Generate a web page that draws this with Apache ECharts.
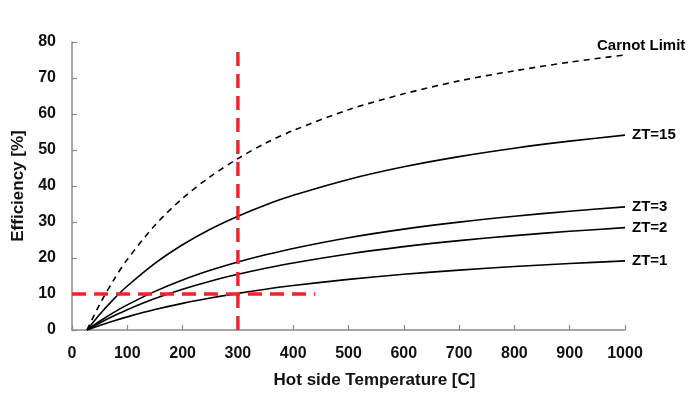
<!DOCTYPE html>
<html>
<head>
<meta charset="utf-8">
<script src="https://cdn.jsdelivr.net/npm/echarts@6/dist/echarts.min.js"></script>
<style>html,body{margin:0;padding:0;background:#fff;}#c{width:700px;height:400px;}</style>
</head>
<body>
<div id="c"></div>
<script>
var temps = [27, 50, 75, 100, 150, 200, 250, 300, 350, 400, 500, 600, 700, 800, 900, 1000];
var carnot = [0, 7.1, 13.8, 19.6, 29.1, 36.6, 42.6, 47.6, 51.9, 55.4, 61.2, 65.6, 69.2, 72.0, 74.4, 76.4];
var zt15 = [0, 4.33, 8.51, 12.22, 18.53, 23.68, 27.97, 31.59, 34.71, 37.40, 41.83, 45.34, 48.17, 50.50, 52.46, 54.13];
var zt3 = [0, 2.43, 4.82, 6.98, 10.73, 13.89, 16.57, 18.88, 20.89, 22.66, 25.62, 28.01, 29.97, 31.60, 32.99, 34.19];
var zt2 = [0, 1.96, 3.89, 5.65, 8.72, 11.32, 13.54, 15.46, 17.15, 18.63, 21.13, 23.15, 24.82, 26.22, 27.41, 28.44];
var zt1 = [0, 1.26, 2.51, 3.65, 5.67, 7.40, 8.88, 10.18, 11.33, 12.34, 14.06, 15.47, 16.63, 17.62, 18.46, 19.19];
var vLine = [[300, 0], [300, 79.2]];
var hLine = [[0, 10], [440, 10]];
var xTicks = [0, 100, 200, 300, 400, 500, 600, 700, 800, 900, 1000];
var yTicks = [0, 10, 20, 30, 40, 50, 60, 70, 80];

function pairs(ys) { return temps.map(function (t, i) { return [t, ys[i]]; }); }

var FONT = 'Liberation Sans, Arial, sans-serif';
function curve(name, ys, dashed, labelText, offset) {
  return {
    name: name, type: 'line', data: pairs(ys), smooth: 0.3, showSymbol: false, symbol: 'none',
    lineStyle: { color: '#000', width: 1.6, type: dashed ? [6, 5] : 'solid' },
    endLabel: {
      show: true, formatter: labelText, offset: offset,
      color: '#000', fontFamily: FONT, fontWeight: 'bold', fontSize: 15
    },
    z: 3, silent: true
  };
}

var chart = echarts.init(document.getElementById('c'), null, { renderer: 'canvas' });
chart.setOption({
  animation: false,
  backgroundColor: '#fff',
  grid: { left: 72, right: 75, top: 42, bottom: 70 },
  xAxis: {
    type: 'value', min: 0, max: 1000, interval: 100,
    name: 'Hot side Temperature [C]', nameLocation: 'middle', nameGap: 42,
    nameTextStyle: { color: '#111', fontFamily: FONT, fontWeight: 'bold', fontSize: 17, padding: [0, 0, 0, 52] },
    axisLine: { show: true, lineStyle: { color: '#8a8a8a', width: 1.5 } },
    axisTick: { show: true, inside: true, length: 5, lineStyle: { color: '#8a8a8a', width: 1.2 } },
    axisLabel: { margin: 16, color: '#111', fontFamily: FONT, fontWeight: 'bold', fontSize: 16,
      formatter: function (v) { return xTicks.indexOf(v) >= 0 ? String(v) : ''; } },
    splitLine: { show: false }
  },
  yAxis: {
    type: 'value', min: 0, max: 80, interval: 10,
    name: 'Efficiency [%]', nameLocation: 'middle', nameGap: 43, nameRotate: 90,
    nameTextStyle: { color: '#111', fontFamily: FONT, fontWeight: 'bold', fontSize: 17 },
    axisLine: { show: true, lineStyle: { color: '#8a8a8a', width: 1.5 } },
    axisTick: { show: true, inside: true, length: 5, lineStyle: { color: '#8a8a8a', width: 1.2 } },
    axisLabel: { margin: 16, color: '#111', fontFamily: FONT, fontWeight: 'bold', fontSize: 16,
      formatter: function (v) { return yTicks.indexOf(v) >= 0 ? String(v) : ''; } },
    splitLine: { show: false }
  },
  series: [
    curve('Carnot Limit', carnot, true, 'Carnot Limit', [-36, -9]),
    curve('ZT=15', zt15, false, 'ZT=15', [-1, 0]),
    curve('ZT=3', zt3, false, 'ZT=3', [-1, 0]),
    curve('ZT=2', zt2, false, 'ZT=2', [-1, 0]),
    curve('ZT=1', zt1, false, 'ZT=1', [-1, 0]),
    { name: 'v', type: 'line', data: vLine, symbol: 'none', silent: true, z: 4,
      lineStyle: { color: '#e8262b', width: 3.4, type: [14, 8] } },
    { name: 'h', type: 'line', data: hLine, symbol: 'none', silent: true, z: 4,
      lineStyle: { color: '#e8262b', width: 3.4, type: [14, 8] } }
  ]
});
</script>
</body>
</html>
